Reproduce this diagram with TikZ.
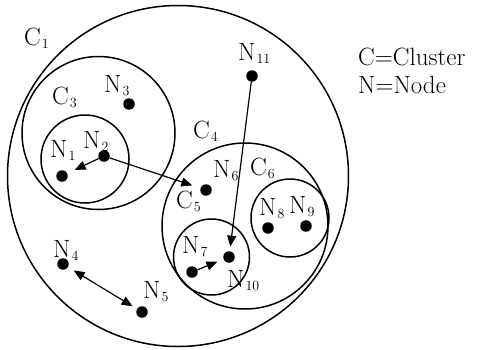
\documentclass[tikz,border=0pt]{standalone}
\usetikzlibrary{arrows.meta}
\newcommand{\labtext}[2]{#1\hspace{1pt}\raisebox{-3pt}{\fontsize{14}{14}\selectfont #2}}
\begin{document}
\begin{tikzpicture}[x=1pt,y=-1pt,
 cluster/.style={draw, circle, line width=1.5pt, inner sep=0pt},
 dot/.style={fill, circle, inner sep=0pt, minimum size=11.5pt},
 lbl/.style={anchor=base west, inner sep=0pt, font=\fontsize{25}{25}\selectfont},
 link/.style={line width=1.2pt, -{Triangle[length=11pt,width=9pt]}},
 dlink/.style={line width=1.2pt, {Triangle[length=11pt,width=9pt]}-{Triangle[length=11pt,width=9pt]}}]
\useasboundingbox (0,0) rectangle (482,349);
% clusters
\node[cluster, minimum size=341pt] (c1) at (178,176) {};
\node[cluster, minimum size=153pt] (c3) at (98.5,133) {};
\node[cluster, minimum size=88pt] (c2) at (85,159) {};
\node[cluster, minimum size=166pt] (c4) at (245,226) {};
\node[cluster, minimum size=78pt] (c6) at (290,218) {};
\node[cluster, minimum size=76pt] (c5) at (211.5,257) {};
% nodes
\node[dot] (n1) at (62,176) {};
\node[dot] (n2) at (104,156) {};
\node[dot] (n3) at (129,104) {};
\node[dot] (n4) at (63,264) {};
\node[dot] (n5) at (142,312) {};
\node[dot] (n6) at (206,190) {};
\node[dot] (n7) at (192,272) {};
\node[dot] (n8) at (268,228) {};
\node[dot] (n9) at (306,226) {};
\node[dot] (n10) at (229,257) {};
\node[dot] (n11) at (252,76) {};
% labels
\node[lbl] (lc1) at (24,45) {\labtext{C}{1}};
\node[lbl] (lc3) at (52,104) {\labtext{C}{3}};
\node[lbl] (lc4) at (193,138) {\labtext{C}{4}};
\node[lbl] (lc5) at (176,208) {\labtext{C}{5}};
\node[lbl] (lc6) at (250,175) {\labtext{C}{6}};
\node[lbl] (ln1) at (50,157) {\labtext{N}{1}};
\node[lbl] (ln2) at (83,148) {\labtext{N}{2}};
\node[lbl] (ln3) at (104,92) {\labtext{N}{3}};
\node[lbl] (ln4) at (53,257) {\labtext{N}{4}};
\node[lbl] (ln5) at (143,298) {\labtext{N}{5}};
\node[lbl] (ln6) at (213,177) {\labtext{N}{6}};
\node[lbl] (ln7) at (182,253) {\labtext{N}{7}};
\node[lbl] (ln8) at (259,215) {\labtext{N}{8}};
\node[lbl] (ln9) at (289,213) {\labtext{N}{9}};
\node[lbl] (ln10) at (227,287) {\labtext{N}{10}};
\node[lbl] (ln11) at (238,60) {\labtext{N}{11}};
\node[lbl] (leg1) at (358,65) {C=Cluster};
\node[lbl] (leg2) at (358,93) {N=Node};
% connectors
\draw[link, shorten >=8pt] (n2) -- (n1);
\draw[link, shorten >=8.5pt] (n2) -- (n6);
\draw[link, shorten >=4.5pt] (n11) -- (n10);
\draw[link, shorten >=6.5pt] (n7) -- (n10);
\draw[dlink, shorten <=6.5pt, shorten >=5pt] (n4) -- (n5);
\end{tikzpicture}
\end{document}
